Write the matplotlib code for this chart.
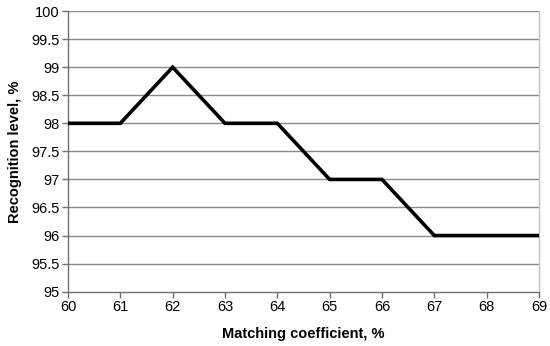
import matplotlib.pyplot as plt

matching_coef = [60, 61, 62, 63, 64, 65, 66, 67, 68, 69]
recognition = [98, 98, 99, 98, 98, 97, 97, 96, 96, 96]

x_ticks = list(range(60, 70))
y_ticks = [95, 95.5, 96, 96.5, 97, 97.5, 98, 98.5, 99, 99.5, 100]
y_tick_labels = ["95", "95.5", "96", "96.5", "97", "97.5", "98", "98.5", "99", "99.5", "100"]

plt.rcParams["font.family"] = ["Liberation Sans", "DejaVu Sans"]

fig = plt.figure(figsize=(5.5, 3.46), dpi=100)
ax = fig.add_axes([0.1236, 0.157, 0.8564, 0.811])

for y in y_ticks[1:]:
    ax.axhline(y, color="#8a8a8a", lw=1.0, zorder=1)

ax.plot(matching_coef, recognition, color="black", lw=2.6, zorder=3,
        solid_joinstyle="miter")

ax.set_xlim(60, 69)
ax.set_ylim(95, 100)
ax.set_xticks(x_ticks)
ax.set_yticks(y_ticks)
ax.set_yticklabels(y_tick_labels)
ax.tick_params(axis="both", direction="out", length=4, width=1,
               color="#707070", labelsize=10.5, pad=2)

for side in ("left", "bottom"):
    ax.spines[side].set_color("#707070")
    ax.spines[side].set_linewidth(1.0)
ax.spines["top"].set_visible(False)
ax.spines["right"].set_color("#c0c0c0")
ax.spines["right"].set_linewidth(1.0)

ax.set_xlabel("Matching coefficient, %", fontsize=10.5, fontweight="bold", labelpad=9)
ax.set_ylabel("Recognition level, %", fontsize=10.5, fontweight="bold", labelpad=7)

fig.savefig("out.png", dpi=100)
